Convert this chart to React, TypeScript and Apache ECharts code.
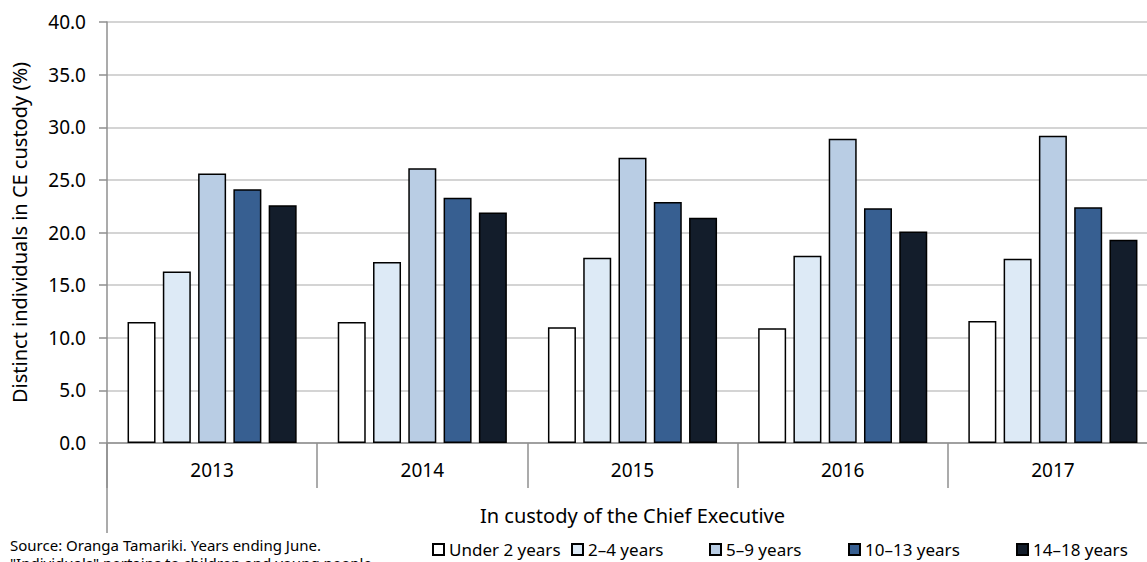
import React, { useEffect, useRef } from "react";
import * as echarts from "echarts";

const years = ["2013", "2014", "2015", "2016", "2017"];
const seriesNames = ["Under 2 years", "2–4 years", "5–9 years", "10–13 years", "14–18 years"];
const under2 = [11.5, 11.5, 11.0, 10.9, 11.6];
const age2to4 = [16.3, 17.2, 17.6, 17.8, 17.5];
const age5to9 = [25.6, 26.1, 27.1, 28.9, 29.2];
const age10to13 = [24.1, 23.3, 22.9, 22.3, 22.4];
const age14to18 = [22.6, 21.9, 21.4, 20.1, 19.3];
const seriesValues = [under2, age2to4, age5to9, age10to13, age14to18];
const colors = ["#ffffff", "#ddeaf6", "#b9cde4", "#375f91", "#131d2b"];
const legendLefts = [432, 571, 709, 848, 1016];

const FONT = "Noto Sans";

export default function App() {
  const ref = useRef<HTMLDivElement>(null);
  useEffect(() => {
    document.body.style.margin = "0";
    const chart = echarts.init(ref.current!, null, { renderer: "svg" });
    chart.setOption({
      animation: false,
      textStyle: { fontFamily: FONT },
      grid: {
        left: 107,
        right: -11,
        top: 22,
        bottom: 119,
        containLabel: false,
        outerBoundsMode: "none",
      },
      xAxis: {
        type: "category",
        data: years,
        boundaryGap: true,
        axisLine: { show: true, lineStyle: { color: "#8f8f8f", width: 1.5 } },
        axisTick: { show: true, interval: 0, length: 45, lineStyle: { color: "#8f8f8f", width: 1.5 } },
        axisLabel: { color: "#000", fontSize: 19, margin: 17, fontFamily: FONT },
        name: "In custody of the Chief Executive",
        nameLocation: "middle",
        nameGap: 62,
        nameTextStyle: { color: "#000", fontSize: 20, fontFamily: FONT },
      },
      yAxis: {
        type: "value",
        min: 0,
        max: 40,
        interval: 5,
        axisLine: { show: true, lineStyle: { color: "#8f8f8f", width: 1.5 } },
        axisTick: { show: true, length: 8, lineStyle: { color: "#8f8f8f", width: 1.5 } },
        axisLabel: {
          color: "#000",
          fontSize: 19,
          margin: 21,
          fontFamily: FONT,
          formatter: (v: number) => v.toFixed(1),
        },
        splitLine: { show: true, lineStyle: { color: "#c6c6c6", width: 1.5 } },
        name: "Distinct individuals in CE custody (%)",
        nameLocation: "middle",
        nameGap: 78,
        nameTextStyle: { color: "#000", fontSize: 20, fontFamily: FONT },
      },
      legend: seriesNames.map((n, i) => ({
        data: [n],
        left: legendLefts[i],
        top: 541,
        padding: 0,
        itemWidth: 11,
        itemHeight: 11,
        icon: "rect",
        textStyle: { color: "#000", fontSize: 17, fontFamily: FONT },
      })),
      graphic: [
        {
          type: "line",
          shape: { x1: 107, y1: 443, x2: 107, y2: 533 },
          style: { stroke: "#8f8f8f", lineWidth: 1.5 },
        },
        {
          type: "text",
          left: 10,
          top: 536,
          style: {
            text: 'Source: Oranga Tamariki. Years ending June.\n"Individuals" pertains to children and young people',
            font: `15px "${FONT}"`,
            fill: "#000",
            lineHeight: 18,
          },
        },
      ],
      series: seriesNames.map((n, i) => ({
        name: n,
        type: "bar",
        data: seriesValues[i],
        barWidth: 28,
        barGap: "26%",
        itemStyle: { color: colors[i], borderColor: "#000", borderWidth: 1.5 },
      })),
    });
    return () => chart.dispose();
  }, []);
  return <div ref={ref} style={{ width: 1147, height: 562 }} />;
}
